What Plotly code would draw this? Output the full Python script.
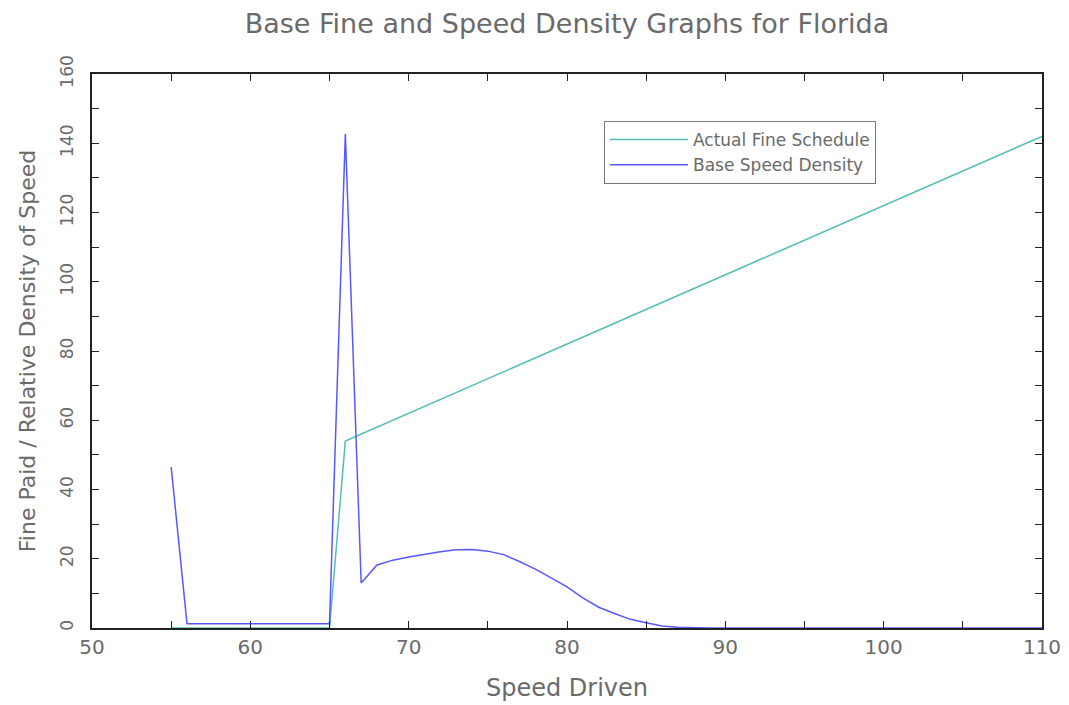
import plotly.graph_objects as go

# ---- data ----
fine_speed = [55, 65, 66, 110]
fine_paid = [0, 0, 54, 142]

density_speed = list(range(55, 111))
density_values = [
    46.5, 1.2, 1.2, 1.2, 1.2, 1.2, 1.2, 1.2, 1.2, 1.2,   # 55-64
    1.2, 142.7, 13.0, 18.2, 19.6, 20.5, 21.3, 22.0, 22.6, 22.7,  # 65-74
    22.2, 21.2, 19.2, 17.0, 14.5, 11.9, 8.7, 6.0, 4.2, 2.5,  # 75-84
    1.5, 0.6, 0.2, 0.0, 0.0, 0.0, 0.0, 0.0, 0.0, 0.0,  # 85-94
    0.0, 0.0, 0.0, 0.0, 0.0, 0.0, 0.0, 0.0, 0.0, 0.0,  # 95-104
    0.0, 0.0, 0.0, 0.0, 0.0, 0.0,  # 105-110
]

x_ticks = [50, 60, 70, 80, 90, 100, 110]
y_ticks = [0, 20, 40, 60, 80, 100, 120, 140, 160]

FONT = "DejaVu Sans"
TXT = "#6a6a6a"
FRAME = "#222222"

# page body has an 8px default margin, so the figure is 8px smaller
W, H = 1061, 697
L, T, PW, PH = 84, 66, 950, 554

fig = go.Figure()
fig.add_trace(go.Scatter(
    x=fine_speed, y=fine_paid, mode="lines", name="Actual Fine Schedule",
    line=dict(color="#52BDB6", width=1.5),
))
fig.add_trace(go.Scatter(
    x=density_speed, y=density_values, mode="lines", name="Base Speed Density",
    line=dict(color="#5858FF", width=1.5),
))

axis_common = dict(
    showgrid=False, zeroline=False, showline=True, linecolor=FRAME, linewidth=2,
    mirror="ticks", ticks="inside", ticklen=7, tickcolor=FRAME, tickwidth=1,
    tickfont=dict(family=FONT, color=TXT), automargin=False,
)

fig.update_layout(
    width=W, height=H,
    margin=dict(l=L, r=W - L - PW, t=T, b=H - T - PH),
    paper_bgcolor="white", plot_bgcolor="white",
    title=dict(
        text="Base Fine and Speed Density Graphs for Florida",
        x=(L + PW / 2) / W, xanchor="center",
        y=1 - 16 / H, yanchor="middle", yref="container",
        font=dict(family=FONT, size=27, color=TXT),
    ),
    xaxis=dict(
        range=[50, 110], tickvals=x_ticks, ticktext=[str(v) for v in x_ticks],
        minor=dict(ticks="inside", dtick=5, ticklen=7, tickcolor=FRAME),
        title=dict(text="Speed Driven", font=dict(family=FONT, size=24, color=TXT), standoff=21),
        **axis_common,
    ),
    yaxis=dict(
        range=[0, 160], tickvals=y_ticks, ticktext=[str(v) for v in y_ticks],
        tickangle=-90, ticklabelstandoff=10,
        minor=dict(ticks="inside", dtick=10, ticklen=7, tickcolor=FRAME),
        title=dict(text="Fine Paid / Relative Density of Speed",
                   font=dict(family=FONT, size=22, color=TXT), standoff=16),
        **axis_common,
    ),
    legend=dict(
        x=(604 - 92) / PW, y=(628 - 121) / PH, xanchor="left", yanchor="top",
        bgcolor="white", bordercolor="#777777", borderwidth=1,
        font=dict(family=FONT, size=17, color=TXT),
        tracegroupgap=0, itemwidth=78,
    ),
    showlegend=True,
)
fig.update_xaxes(tickfont_size=20)
fig.update_yaxes(tickfont_size=17)

fig.write_html("out.html")
